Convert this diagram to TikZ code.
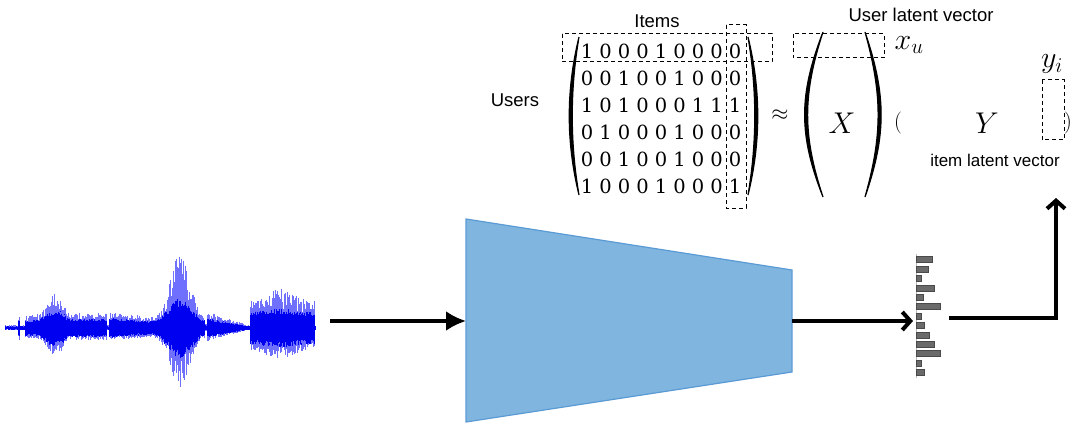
\RequirePackage{fix-cm}
\documentclass[tikz,border=0pt]{standalone}
\usepackage{fontspec}
\newfontfamily\arial{Liberation Sans}
\newfontfamily\digf{DejaVu Serif}
\usetikzlibrary{arrows.meta}
\definecolor{encfill}{HTML}{7FB5DE}
\definecolor{encdraw}{HTML}{5B9BD5}
\definecolor{bargray}{HTML}{6A6A6A}
\definecolor{wavecore}{HTML}{0000F0}
\definecolor{waveedge}{HTML}{7070FF}
\begin{document}
\begin{tikzpicture}[x=1pt,y=-1pt,
  lbl/.style={font=\arial\fontsize{18.5}{22}\selectfont, inner sep=0pt},
  lblsmall/.style={font=\arial\fontsize{17}{20}\selectfont, inner sep=0pt},
  digit/.style={font=\digf\fontsize{19.5}{24}\selectfont, inner sep=0pt},
  mathbig/.style={font=\fontsize{30}{36}\selectfont, inner sep=0pt},
  mathsym/.style={font=\fontsize{22}{26}\selectfont, inner sep=0pt},
  dbox/.style={draw, dash pattern=on 4pt off 3pt, line width=1pt},
  parenfill/.style={fill=black, draw=black, line width=1.2pt, line cap=round},
  thickarrow/.style={line width=4pt, line join=miter, -{Straight Barb[length=8pt,width=18pt]}},
  bar/.style={fill=bargray, draw=bargray!70!black, line width=0.4pt},
  waveouter/.style={draw=waveedge, line width=0.6pt},
  waveinner/.style={draw=wavecore, line width=0.8pt}
]
\useasboundingbox (0,0) rectangle (1079,433);

% ---------- waveform ----------
\pgfmathsetseed{7}
\foreach \i in {0,...,620} {
  \pgfmathsetmacro\xx{5+0.5*\i}
  \pgfmathsetmacro\A{3
    + (\xx>18)*(\xx<19.6)*12
    + (\xx>25)*(\xx<72)*(10 + 22*exp(-min(((\xx-55)/10)^2,30)))
    + (\xx>=72)*(\xx<107)*12
    + (\xx>109)*(\xx<152)*(13-5*(\xx-110)/42)
    + 64*exp(-min(((\xx-180)/13)^2,30))
    + (\xx>=152)*(\xx<205)*8
    + (\xx>207)*(\xx<248)*(13*(248-\xx)/41)
    + (\xx>250)*(\xx<315)*(24+12*exp(-min(((\xx-280)/18)^2,30)))}
  \pgfmathsetmacro\C{min(0.62*\A, 8+0.3*\A)}
  \pgfmathsetmacro\t{\A*(0.45+0.55*rnd)}
  \pgfmathsetmacro\b{0.8*\A*(0.45+0.55*rnd)}
  \pgfmathsetmacro\tc{\C*(0.7+0.3*rnd)}
  \pgfmathsetmacro\bc{\C*(0.7+0.3*rnd)}
  \draw[waveouter] (\xx,328-\t) -- (\xx,328+\b);
  \draw[waveinner] (\xx,328-\tc) -- (\xx,328+\bc);
}
\coordinate (waveR) at (330,321);

% ---------- encoder trapezoid ----------
\coordinate (encTL) at (466,219);
\coordinate (encTR) at (792,270);
\coordinate (encBR) at (792,372);
\coordinate (encBL) at (466,422);
\fill[encfill] (encTL) -- (encTR) -- (encBR) -- (encBL) -- cycle;
\draw[encdraw, line width=1.2pt, line join=miter] (encTL) -- (encTR) -- (encBR) -- (encBL) -- cycle;
\coordinate (encL) at (466,321);
\coordinate (encR) at (792,321);

\draw[line width=3.5pt, -{Latex[length=20pt,width=20pt]}] (waveR) -- (encL);

% ---------- latent vector bars ----------
\coordinate (vecL) at (913,321);
\draw[gray!55, line width=0.9pt] (916,254) -- (916,378);
\foreach \yc/\len in {259/16,269/12,278/5,288/18,297/7,306/24,316/5,325/8,335/13,344/18,353/24,363/5,372/8} {
  \draw[bar] (916.5,\yc-3) rectangle (916.5+\len,\yc+3);
}
\draw[thickarrow] (encR) -- (vecL);

\coordinate (vecR) at (949,318);
\coordinate (corner) at (1056,318);
\coordinate (upTop) at (1056,198);
\draw[thickarrow] (vecR) -- (corner) -- (upTop);

% ---------- rating matrix ----------
\node[lbl] (items) at (657,21) {Items};
\node[lbl] (users) at (515,100) {Users};
\foreach \row [count=\r from 0] in {
  {1,0,0,0,1,0,0,0,0},
  {0,0,1,0,0,1,0,0,0},
  {1,0,1,0,0,0,1,1,1},
  {0,1,0,0,0,1,0,0,0},
  {0,0,1,0,0,1,0,0,0},
  {1,0,0,0,1,0,0,0,1}} {
  \foreach \v [count=\c from 0] in \row {
    \node[digit] (m-\r-\c) at (587+18.5*\c, 51+27*\r) {\v};
  }
}
% matrix parentheses
\filldraw[parenfill] (579,37) .. controls (566,90) and (566,142) .. (579,195)
  .. controls (570,142) and (570,90) .. (579,37) -- cycle;
\filldraw[parenfill] (748,37) .. controls (761,90) and (761,142) .. (748,195)
  .. controls (757,142) and (757,90) .. (748,37) -- cycle;
% dashed selections
\draw[dbox] (562,34) rectangle (772,62);
\draw[dbox] (726,25) rectangle (746,208);

\node[mathsym] (approx) at (780,115) {$\approx$};

% ---------- X factor ----------
\node[lbl] (ulv) at (921,15) {User latent vector};
\filldraw[parenfill] (823,32) .. controls (798.5,95) and (798.5,135) .. (823,197)
  .. controls (802.5,135) and (802.5,95) .. (823,32) -- cycle;
\filldraw[parenfill] (865,32) .. controls (886.5,95) and (886.5,135) .. (865,197)
  .. controls (882.5,135) and (882.5,95) .. (865,32) -- cycle;
\node[mathbig] (X) at (842,123) {$X$};
\draw[dbox] (793,34) rectangle (884,58);
\node[mathbig] (xu) at (909,45) {$x_u$};

% ---------- Y factor ----------
\node[mathsym] (lpar) at (898,123) {$($};
\node[mathbig] (Y) at (987,123) {$Y$};
\node[mathsym] (rpar) at (1068,123) {$)$};
\draw[dbox] (1042,80) rectangle (1064,140);
\node[mathbig] (yi) at (1052,64) {$y_i$};
\node[lblsmall] (ilv) at (995,160) {item latent vector};
\end{tikzpicture}
\end{document}
